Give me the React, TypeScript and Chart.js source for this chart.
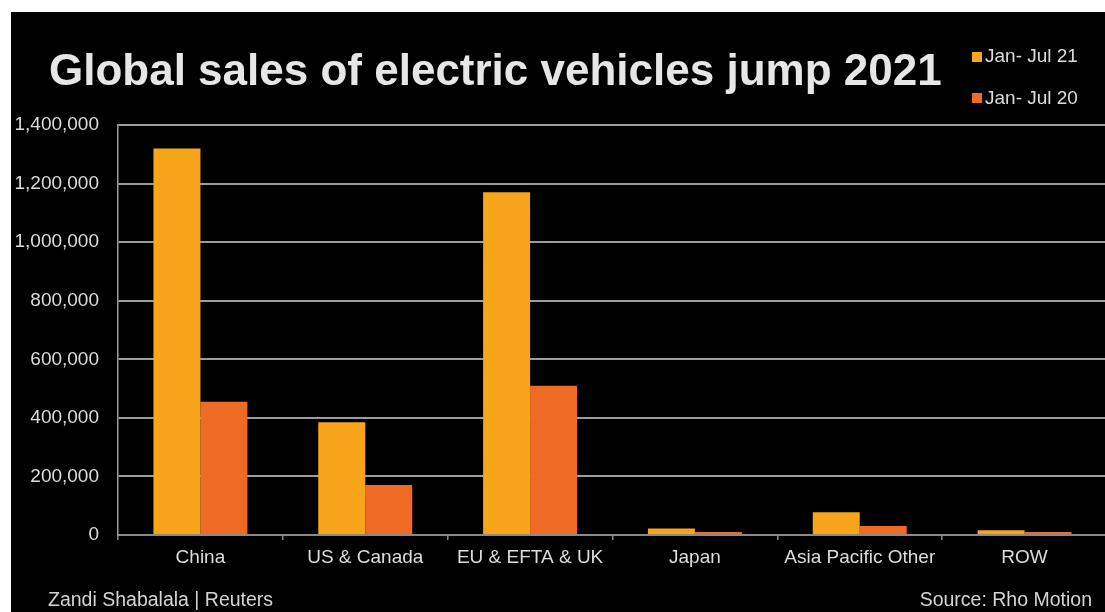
import React, { useEffect, useRef } from "react";
import { Chart, registerables } from "chart.js";

Chart.register(...registerables);

const categories = ["China", "US & Canada", "EU & EFTA & UK", "Japan", "Asia Pacific Other", "ROW"];
const sales2021 = [1320000, 385000, 1170000, 22000, 78000, 16000];
const sales2020 = [455000, 171000, 510000, 10000, 31000, 10000];
const yTickValues = [0, 200000, 400000, 600000, 800000, 1000000, 1200000, 1400000];
const seriesLabels = ["Jan- Jul 21", "Jan- Jul 20"];
const seriesColors = ["#F8A51C", "#EE6A25"];
const titleText = "Global sales of electric vehicles jump 2021";
const creditText = "Zandi Shabalala | Reuters";
const sourceText = "Source: Rho Motion";

const FONT = "'Liberation Sans', Arial, sans-serif";

export default function App() {
  const canvasRef = useRef<HTMLCanvasElement | null>(null);

  useEffect(() => {
    const canvas = canvasRef.current;
    if (!canvas) return;
    const chart = new Chart(canvas, {
      type: "bar",
      data: {
        labels: categories,
        datasets: [
          {
            label: seriesLabels[0],
            data: sales2021,
            backgroundColor: seriesColors[0],
            borderWidth: 0,
            categoryPercentage: 0.57,
            barPercentage: 1.0,
          },
          {
            label: seriesLabels[1],
            data: sales2020,
            backgroundColor: seriesColors[1],
            borderWidth: 0,
            categoryPercentage: 0.57,
            barPercentage: 1.0,
          },
        ],
      },
      options: {
        responsive: false,
        animation: false,
        maintainAspectRatio: false,
        layout: { padding: { left: 0, top: 113, right: 4, bottom: 0 } },
        plugins: {
          legend: { display: false },
          tooltip: { enabled: false },
          title: { display: false },
        },
        scales: {
          x: {
            grid: {
              display: true,
              drawOnChartArea: false,
              drawTicks: true,
              tickLength: 5,
              color: "#8a8a8a",
              lineWidth: 1.5,
              offset: true,
            },
            border: { display: true, color: "#8a8a8a", width: 2 },
            ticks: {
              color: "#dcdcdc",
              font: { family: FONT, size: 19 },
              padding: 6,
              maxRotation: 0,
              autoSkip: false,
            },
            afterFit: (scale: any) => {
              scale.height = 77;
            },
          },
          y: {
            min: 0,
            max: 1400000,
            afterBuildTicks: (scale: any) => {
              scale.ticks = yTickValues.map((v) => ({ value: v }));
            },
            grid: {
              display: true,
              drawTicks: false,
              color: "#9c9c9c",
              lineWidth: 2,
            },
            border: { display: true, color: "#9c9c9c", width: 1.5 },
            ticks: {
              color: "#dcdcdc",
              font: { family: FONT, size: 19 },
              padding: 19,
              callback: (v: any) => Number(v).toLocaleString("en-US"),
            },
            afterFit: (scale: any) => {
              scale.width = 107;
            },
          },
        },
      },
    });
    return () => chart.destroy();
  }, []);

  const textBase = {
    position: "absolute" as const,
    fontFamily: FONT,
    lineHeight: 1,
    whiteSpace: "nowrap" as const,
    margin: 0,
  };

  return (
    <div
      style={{
        position: "fixed",
        left: 0,
        top: 0,
        width: 1105,
        height: 612,
        overflow: "hidden",
        background: "#ffffff",
      }}
    >
      <div
        style={{
          position: "absolute",
          left: 11,
          top: 12,
          right: 0,
          bottom: 0,
          background: "#000000",
        }}
      />
      <canvas
        ref={canvasRef}
        width={1100}
        height={600}
        style={{ position: "absolute", left: 11, top: 12, width: 1100, height: 600 }}
      />
      <div
        style={{
          ...textBase,
          left: 49,
          top: 48,
          fontSize: 44,
          fontWeight: "bold",
          color: "#e6e6e6",
        }}
      >
        {titleText}
      </div>
      {seriesLabels.map((lab, i) => (
        <React.Fragment key={lab}>
          <div
            style={{
              position: "absolute",
              left: 972,
              top: i === 0 ? 52 : 93,
              width: 10,
              height: 10,
              background: seriesColors[i],
            }}
          />
          <div
            style={{
              ...textBase,
              left: 985,
              top: i === 0 ? 46 : 88,
              fontSize: 19,
              color: "#dcdcdc",
            }}
          >
            {lab}
          </div>
        </React.Fragment>
      ))}
      <div style={{ ...textBase, left: 48, top: 590, fontSize: 19.5, color: "#d4d4d4" }}>
        {creditText}
      </div>
      <div
        style={{
          ...textBase,
          right: 1105 - 1092,
          top: 590,
          fontSize: 19.5,
          color: "#d4d4d4",
        }}
      >
        {sourceText}
      </div>
    </div>
  );
}
